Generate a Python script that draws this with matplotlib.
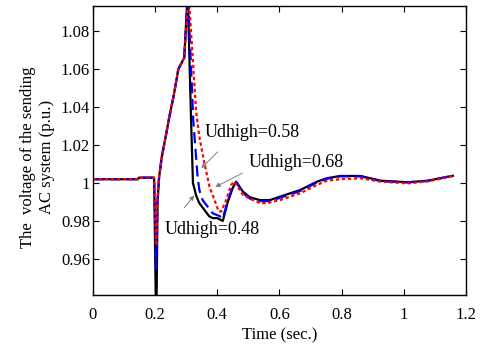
import numpy as np
import matplotlib
matplotlib.use('Agg')
import matplotlib.pyplot as plt

plt.rcParams['font.family'] = ['Liberation Serif', 'DejaVu Serif']
plt.rcParams['mathtext.fontset'] = 'stix'

# Udhigh = 0.48 (black, solid)
t_048 = [0, 0.145, 0.148, 0.197, 0.204, 0.208, 0.213, 0.222, 0.235, 0.245, 0.26, 0.275,
         0.294, 0.305, 0.316, 0.322, 0.326, 0.332, 0.342, 0.358, 0.374, 0.385, 0.4, 0.418,
         0.434, 0.45, 0.461, 0.483, 0.505, 0.537, 0.57, 0.602, 0.667, 0.721, 0.753, 0.796,
         0.861, 0.926, 1.013, 1.077, 1.158]
v_048 = [1.002, 1.002, 1.0028, 1.0028, 0.92, 0.99, 1.003, 1.014, 1.025, 1.034, 1.046, 1.06,
         1.066, 1.1, 1.033, 1.0, 0.9975, 0.9935, 0.9895, 0.986, 0.9825, 0.9815, 0.9815, 0.980,
         0.990, 0.9974, 1.0007, 0.9954, 0.9925, 0.991, 0.991, 0.9928, 0.9963, 1.0007, 1.0025, 1.0037,
         1.0037, 1.0012, 1.0004, 1.0012, 1.0038]

# Udhigh = 0.58 (blue, dashed)
t_058 = [0, 0.145, 0.148, 0.197, 0.204, 0.208, 0.213, 0.222, 0.235, 0.245, 0.26, 0.275,
         0.294, 0.306, 0.323, 0.332, 0.337, 0.3426, 0.353, 0.3695, 0.3857, 0.4075, 0.418,
         0.434, 0.4506, 0.4616, 0.483, 0.505, 0.537, 0.57, 0.602, 0.667, 0.721, 0.753, 0.796,
         0.861, 0.926, 1.013, 1.077, 1.158]
v_058 = [1.002, 1.002, 1.0028, 1.0028, 0.955, 0.99, 1.003, 1.014, 1.025, 1.034, 1.046, 1.06,
         1.066, 1.1, 1.033, 1.0138, 1.0033, 0.9963, 0.991, 0.9875, 0.984, 0.9826, 0.9814,
         0.9905, 0.9984, 1.0004, 0.9947, 0.9918, 0.9905, 0.9905, 0.9922, 0.9958, 1.0003, 1.0022, 1.0035,
         1.0035, 1.001, 1.0003, 1.0011, 1.0038]

# Udhigh = 0.68 (red, dotted)
t_068 = [0, 0.145, 0.148, 0.197, 0.204, 0.208, 0.213, 0.222, 0.235, 0.245, 0.26, 0.275,
         0.294, 0.308, 0.332, 0.3426, 0.359, 0.3753, 0.3913, 0.405, 0.413, 0.429, 0.445,
         0.456, 0.483, 0.515, 0.537, 0.559, 0.602, 0.667, 0.721, 0.753, 0.796, 0.861, 0.926,
         1.013, 1.077, 1.158]
v_068 = [1.002, 1.002, 1.0028, 1.0028, 0.967, 0.99, 1.003, 1.014, 1.025, 1.034, 1.046, 1.06,
         1.066, 1.1, 1.038, 1.0244, 1.0104, 0.998, 0.991, 0.985, 0.985, 0.991, 0.999,
         1.0007, 0.9937, 0.991, 0.9895, 0.9893, 0.991, 0.9946, 0.999, 1.0012, 1.002, 1.0025, 1.0007,
         0.9998, 1.0008, 1.0036]

xticks = [0, 0.2, 0.4, 0.6, 0.8, 1, 1.2]
xtick_labels = ['0', '0.2', '0.4', '0.6', '0.8', '1', '1.2']
yticks = [0.96, 0.98, 1.0, 1.02, 1.04, 1.06, 1.08]
ytick_labels = ['0.96', '0.98', '1', '1.02', '1.04', '1.06', '1.08']

fig = plt.figure(figsize=(4.94, 3.45), dpi=100)
ax = fig.add_axes([0.188, 0.145, 0.755, 0.839])

ax.plot(t_048, v_048, color='black', lw=1.6, ls='-')
ax.plot(t_058, v_058, color='blue', lw=1.6, ls=(0, (5, 2.5)))
ax.plot(t_068, v_068, color='red', lw=1.6, ls=(0, (1.5, 1.2)))

ax.set_xlim(0, 1.2)
ax.set_ylim(0.941, 1.0935)
ax.set_xticks(xticks)
ax.set_xticklabels(xtick_labels)
ax.set_yticks(yticks)
ax.set_yticklabels(ytick_labels)
ax.tick_params(direction='in', top=True, right=True, labelsize=12, length=4, width=0.8)
ax.tick_params(axis='x', pad=9)
ax.tick_params(axis='y', pad=2)
for s in ax.spines.values():
    s.set_linewidth(1.0)

ax.set_xlabel('Time (sec.)', fontsize=12, labelpad=3)
ax.set_ylabel('The  voltage of the sending\nAC system (p.u.)', fontsize=12)
ax.yaxis.set_label_coords(-0.102, 0.477)

arr = dict(arrowstyle='-|>', color='gray', lw=0.7, mutation_scale=7)
ax.text(0.3595, 1.0268, 'Udhigh=0.58', fontsize=13, ha='left', va='center')
ax.annotate('', xy=(0.3426, 1.0068), xytext=(0.4076, 1.0174), arrowprops=arr)
ax.text(0.501, 1.011, 'Udhigh=0.68', fontsize=13, ha='left', va='center')
ax.annotate('', xy=(0.3857, 0.9972), xytext=(0.4885, 1.0058), arrowprops=arr)
ax.text(0.2324, 0.9753, 'Udhigh=0.48', fontsize=13, ha='left', va='center')
ax.annotate('', xy=(0.332, 0.9946), xytext=(0.2885, 0.9858), arrowprops=arr)

fig.savefig('out.png', dpi=100)
